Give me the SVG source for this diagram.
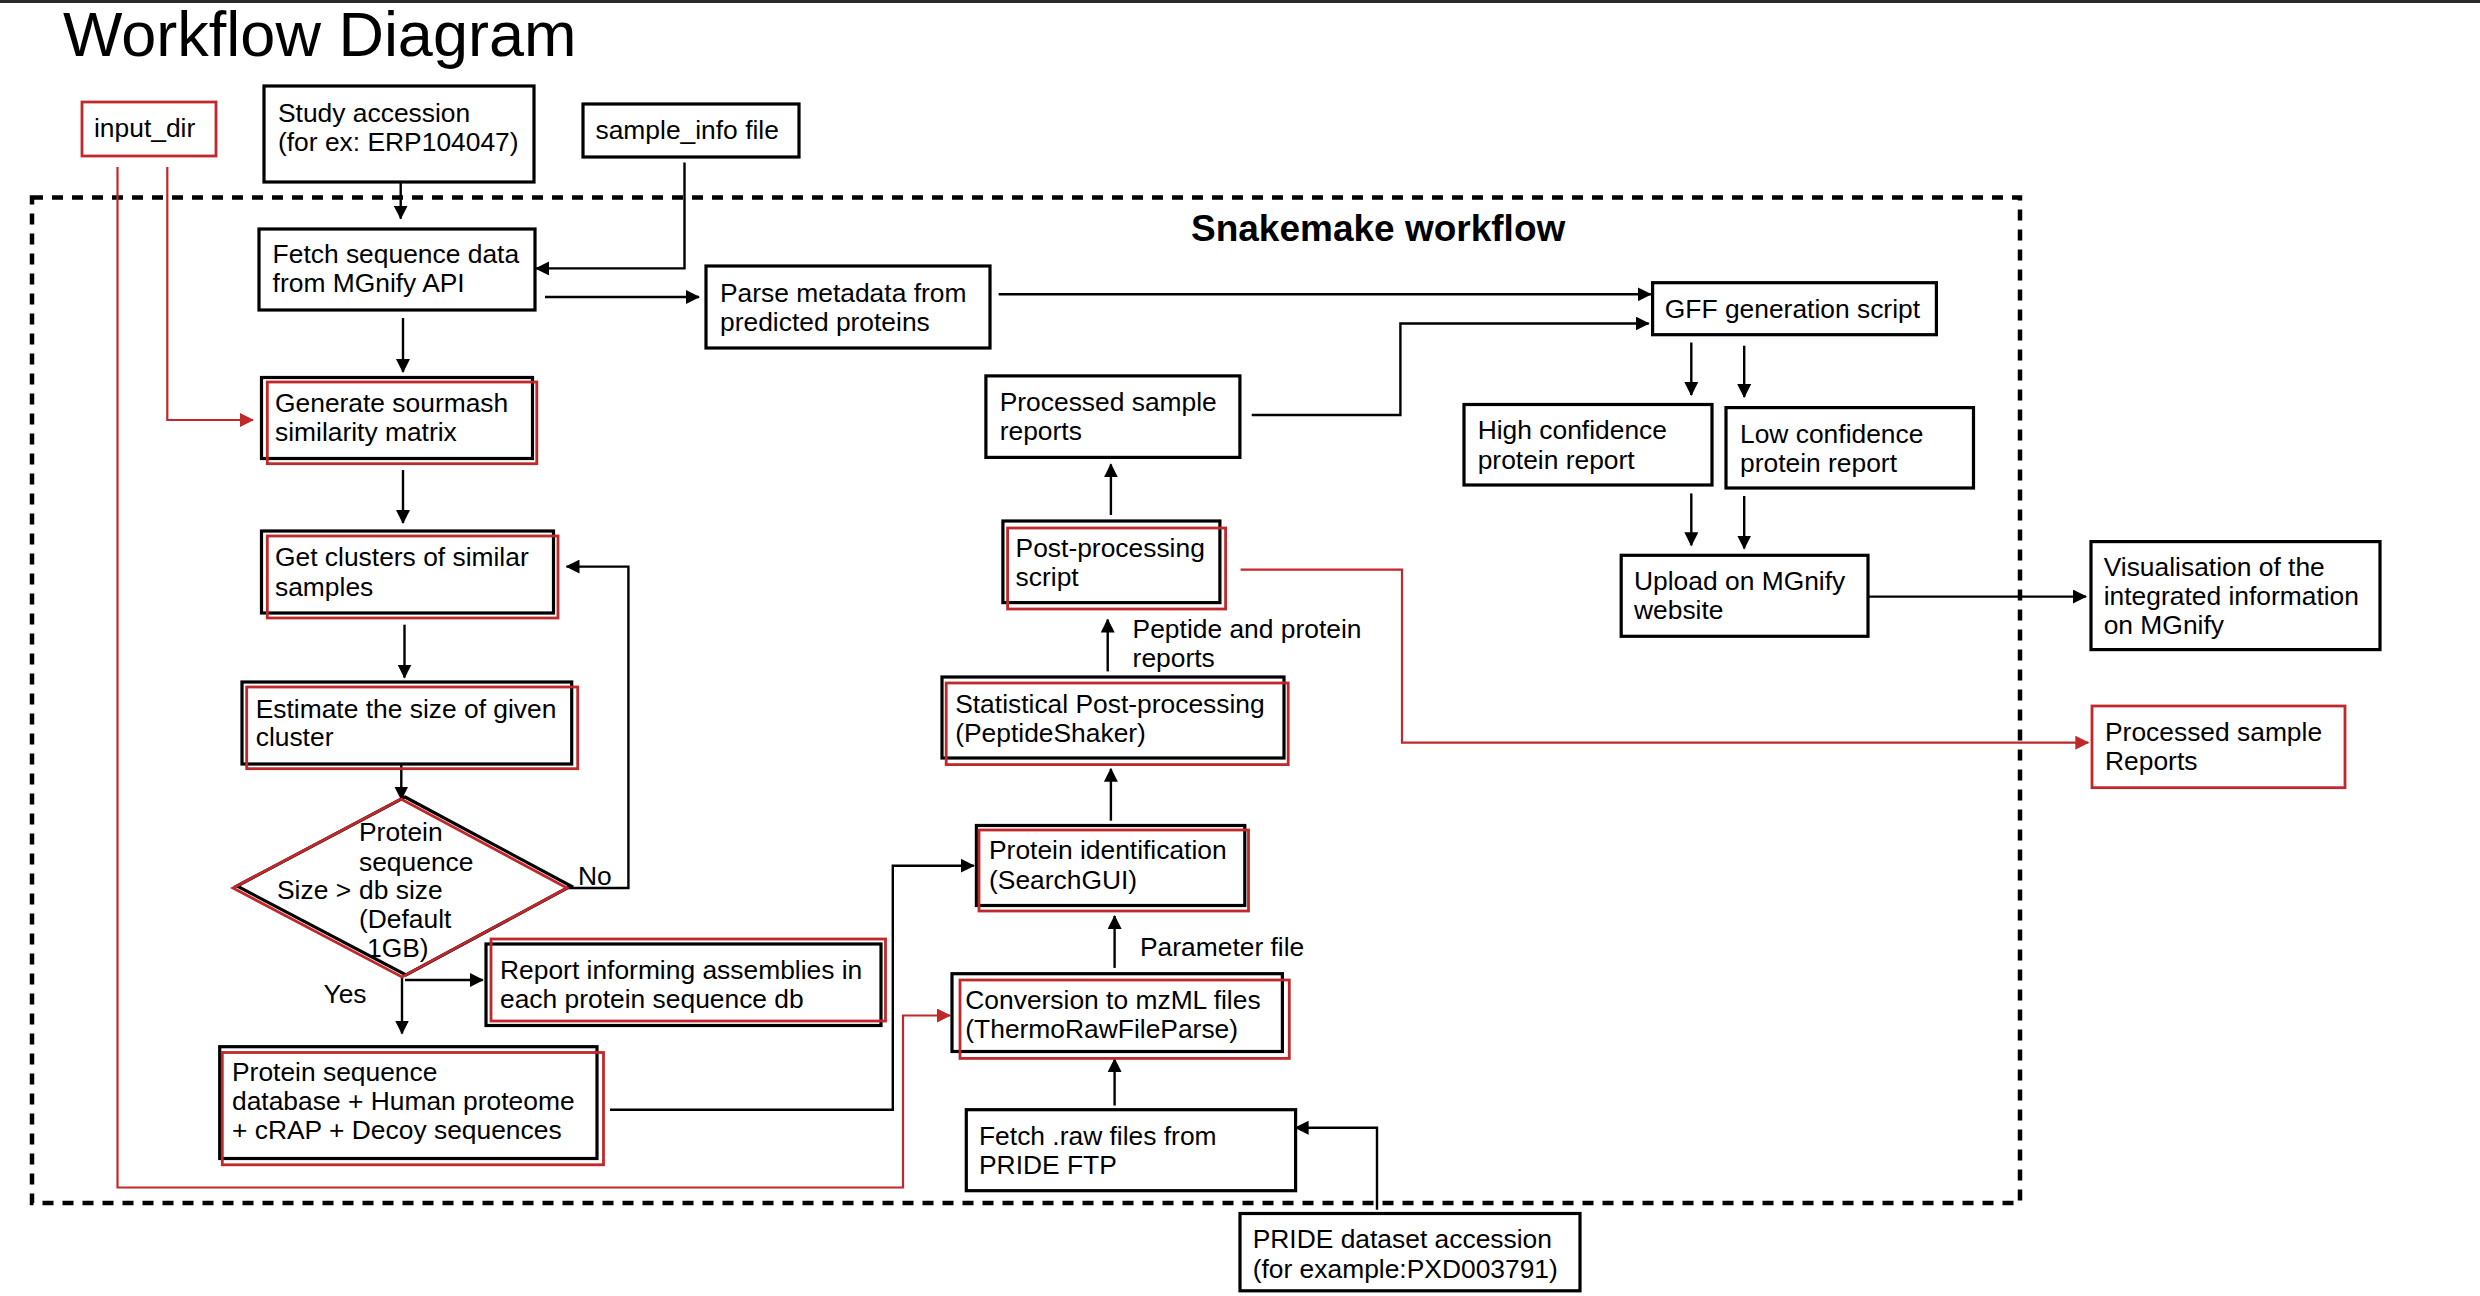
<svg xmlns="http://www.w3.org/2000/svg" width="2480" height="1296" viewBox="0 0 2480 1296">
<defs>
<style>
text{font-family:"Liberation Sans",Arial,Helvetica,sans-serif;fill:#000;font-size:26.4px}
.b{fill:#fff;stroke:#000;stroke-width:3.2}
.r{fill:none;stroke:#c0282b;stroke-width:2.8}
.rb{fill:#fff;stroke:#c0282b;stroke-width:2.8}
.c{fill:none;stroke:#000;stroke-width:2.4}
.cr{fill:none;stroke:#c0282b;stroke-width:2.2}
.title{font-size:63px}
.snake{font-size:37px;font-weight:bold}
</style>
<marker id="ah" viewBox="0 0 14 14" refX="13" refY="7" markerWidth="14" markerHeight="14" markerUnits="userSpaceOnUse" orient="auto">
<path d="M0,0 L14,7 L0,14 z" fill="#000"/>
</marker>
<marker id="ahr" viewBox="0 0 14 14" refX="13" refY="7" markerWidth="14" markerHeight="14" markerUnits="userSpaceOnUse" orient="auto">
<path d="M0,0 L14,7 L0,14 z" fill="#c0282b"/>
</marker>
</defs>
<rect x="0" y="0" width="2480" height="1296" fill="#fff"/>
<rect x="0" y="0" width="2480" height="3" fill="#2b2b2b"/>
<text class="title" x="63" y="56">Workflow Diagram</text>
<rect x="32" y="197.5" width="1988" height="1005.5" fill="none" stroke="#000" stroke-width="4.5" stroke-dasharray="11 9"/>
<text class="snake" x="1191" y="241">Snakemake workflow</text>

<g id="connectors">
<path class="c" d="M400.7,165.7 V218.6" marker-end="url(#ah)"/>
<path class="c" d="M684.5,162.5 V268.4 H536" marker-end="url(#ah)"/>
<path class="c" d="M545,297 H699" marker-end="url(#ah)"/>
<path class="c" d="M403,318 V372" marker-end="url(#ah)"/>
<path class="c" d="M403,470 V523" marker-end="url(#ah)"/>
<path class="c" d="M404.5,624.7 V677.6" marker-end="url(#ah)"/>
<path class="c" d="M401.3,765 V799.5" marker-end="url(#ah)"/>
<path class="c" d="M567.5,888 H628.4 V566.6 H566.5" marker-end="url(#ah)"/>
<path class="c" d="M402,977 V1033.5" marker-end="url(#ah)"/>
<path class="c" d="M405,980 H482.8" marker-end="url(#ah)"/>
<path class="c" d="M610,1109.7 H892.8 V865.7 H973.8" marker-end="url(#ah)"/>
<path class="c" d="M1114.6,1105.5 V1059" marker-end="url(#ah)"/>
<path class="c" d="M1114.6,967.9 V916" marker-end="url(#ah)"/>
<path class="c" d="M1110.9,820.7 V768.8" marker-end="url(#ah)"/>
<path class="c" d="M1107.7,671.4 V619.5" marker-end="url(#ah)"/>
<path class="c" d="M1110.9,515 V464.3" marker-end="url(#ah)"/>
<path class="c" d="M1251.7,415 H1400.4 V323.5 H1648.7" marker-end="url(#ah)"/>
<path class="c" d="M998.6,294.3 H1650.8" marker-end="url(#ah)"/>
<path class="c" d="M1691.3,342.5 V395" marker-end="url(#ah)"/>
<path class="c" d="M1744.2,345.7 V397" marker-end="url(#ah)"/>
<path class="c" d="M1691.3,493.4 V545.3" marker-end="url(#ah)"/>
<path class="c" d="M1744.2,496 V548.5" marker-end="url(#ah)"/>
<path class="c" d="M1868,596.6 H2086" marker-end="url(#ah)"/>
<path class="c" d="M1377,1209.8 V1127.7 H1295.6" marker-end="url(#ah)"/>
<path class="cr" d="M167.3,167 V420 H253" marker-end="url(#ahr)"/>
<path class="cr" d="M117.5,167 V1187.5 H903 V1015.5 H950" marker-end="url(#ahr)"/>
<path class="cr" d="M1240.6,569.6 H1402 V742.7 H2088.3" marker-end="url(#ahr)"/>
</g>

<g id="input_dir">
<rect class="rb" x="82" y="102" width="134" height="54"/>
<text x="94" y="137">input_dir</text>
</g>
<g id="study_accession">
<rect class="b" x="264" y="86" width="270" height="96"/>
<text x="278" y="122">Study accession</text>
<text x="278" y="151">(for ex: ERP104047)</text>
</g>
<g id="sample_info">
<rect class="b" x="583" y="104" width="216" height="53"/>
<text x="595.5" y="138.7">sample_info file</text>
</g>
<g id="fetch_sequence">
<rect class="b" x="259" y="229" width="276" height="81"/>
<text x="272.6" y="263">Fetch sequence data</text>
<text x="272.6" y="292">from MGnify API</text>
</g>
<g id="parse_metadata">
<rect class="b" x="706" y="266" width="284" height="82"/>
<text x="720" y="301.7">Parse metadata from</text>
<text x="720" y="331">predicted proteins</text>
</g>
<g id="generate_sourmash">
<rect class="b" x="261.5" y="377.5" width="271" height="81"/>
<rect class="r" x="267.3" y="382" width="269.5" height="81.7"/>
<text x="275" y="412">Generate sourmash</text>
<text x="275" y="441">similarity matrix</text>
</g>
<g id="get_clusters">
<rect class="b" x="261.5" y="531" width="292" height="82"/>
<rect class="r" x="267.3" y="536" width="290.7" height="82"/>
<text x="275" y="566.4">Get clusters of similar</text>
<text x="275" y="595.6">samples</text>
</g>
<g id="estimate_size">
<rect class="b" x="242" y="682" width="329.7" height="82"/>
<rect class="r" x="246.7" y="687" width="331" height="81.7"/>
<text x="255.7" y="718.4">Estimate the size of given</text>
<text x="255.7" y="746.4">cluster</text>
</g>
<g id="decision">
<polygon class="b" points="405,797 571,886 406,975 237,886"/>
<polygon class="r" points="401,799 567,888 402,977 233,888"/>
<text x="359" y="840.8">Protein</text>
<text x="359" y="871">sequence</text>
<text x="277" y="899">Size &gt;</text>
<text x="359" y="899">db size</text>
<text x="359" y="928">(Default</text>
<text x="367" y="957">1GB)</text>
</g>
<g id="labels">
<text x="578" y="885">No</text>
<text x="323.5" y="1003">Yes</text>
<text x="1132.6" y="638">Peptide and protein</text>
<text x="1132.6" y="667">reports</text>
<text x="1140" y="955.7">Parameter file</text>
</g>
<g id="report_assemblies">
<rect class="b" x="486" y="944" width="395" height="81.5"/>
<rect class="r" x="491" y="939" width="394.5" height="82"/>
<text x="500" y="978.5">Report informing assemblies in</text>
<text x="500" y="1007.5">each protein sequence db</text>
</g>
<g id="protein_db">
<rect class="b" x="219.7" y="1046.7" width="377.3" height="111.8"/>
<rect class="r" x="222.3" y="1052.5" width="381.2" height="112.3"/>
<text x="232" y="1081">Protein sequence</text>
<text x="232" y="1110">database + Human proteome</text>
<text x="232" y="1139.4">+ cRAP + Decoy sequences</text>
</g>
<g id="fetch_raw">
<rect class="b" x="966.3" y="1109.7" width="329.3" height="81"/>
<text x="979" y="1144.7">Fetch .raw files from</text>
<text x="979" y="1173.8">PRIDE FTP</text>
</g>
<g id="conversion">
<rect class="b" x="952" y="973.7" width="330.4" height="77.8"/>
<rect class="r" x="960" y="980" width="329.3" height="78.4"/>
<text x="965.3" y="1008.6">Conversion to mzML files</text>
<text x="965.3" y="1037.7">(ThermoRawFileParse)</text>
</g>
<g id="protein_identification">
<rect class="b" x="976.4" y="825.5" width="268.4" height="80"/>
<rect class="r" x="979" y="830" width="269.5" height="81"/>
<text x="989" y="859.3">Protein identification</text>
<text x="989" y="888.5">(SearchGUI)</text>
</g>
<g id="statistical">
<rect class="b" x="942" y="677" width="342" height="81"/>
<rect class="r" x="946.2" y="683" width="342" height="81.6"/>
<text x="955.2" y="712.7">Statistical Post-processing</text>
<text x="955.2" y="741.8">(PeptideShaker)</text>
</g>
<g id="post_processing">
<rect class="b" x="1002.9" y="521" width="217" height="81.6"/>
<rect class="r" x="1007.6" y="528" width="218" height="81"/>
<text x="1015.6" y="557">Post-processing</text>
<text x="1015.6" y="586">script</text>
</g>
<g id="processed_sample_reports">
<rect class="b" x="985.9" y="375.9" width="254" height="81.5"/>
<text x="999.7" y="410.8">Processed sample</text>
<text x="999.7" y="440">reports</text>
</g>
<g id="gff_script">
<rect class="b" x="1652.6" y="282.7" width="283.8" height="52"/>
<text x="1664.8" y="317.6">GFF generation script</text>
</g>
<g id="high_confidence">
<rect class="b" x="1464" y="404.5" width="248" height="80.5"/>
<text x="1477.7" y="439.4">High confidence</text>
<text x="1477.7" y="468.5">protein report</text>
</g>
<g id="low_confidence">
<rect class="b" x="1726" y="407.6" width="247.5" height="80.4"/>
<text x="1740" y="442.6">Low confidence</text>
<text x="1740" y="471.7">protein report</text>
</g>
<g id="upload">
<rect class="b" x="1621.2" y="555.3" width="246.8" height="81"/>
<text x="1634" y="590">Upload on MGnify</text>
<text x="1634" y="619.4">website</text>
</g>
<g id="visualisation">
<rect class="b" x="2091" y="541.6" width="289" height="108"/>
<text x="2103.7" y="575.5">Visualisation of the</text>
<text x="2103.7" y="604.5">integrated information</text>
<text x="2103.7" y="633.7">on MGnify</text>
</g>
<g id="processed_reports_out">
<rect class="rb" x="2092" y="706" width="253" height="81.7"/>
<text x="2105" y="741">Processed sample</text>
<text x="2105" y="770">Reports</text>
</g>
<g id="pride_accession">
<rect class="b" x="1240" y="1213.5" width="340" height="77.3"/>
<text x="1252.7" y="1248.4">PRIDE dataset accession</text>
<text x="1252.7" y="1277.5">(for example:PXD003791)</text>
</g>
</svg>
